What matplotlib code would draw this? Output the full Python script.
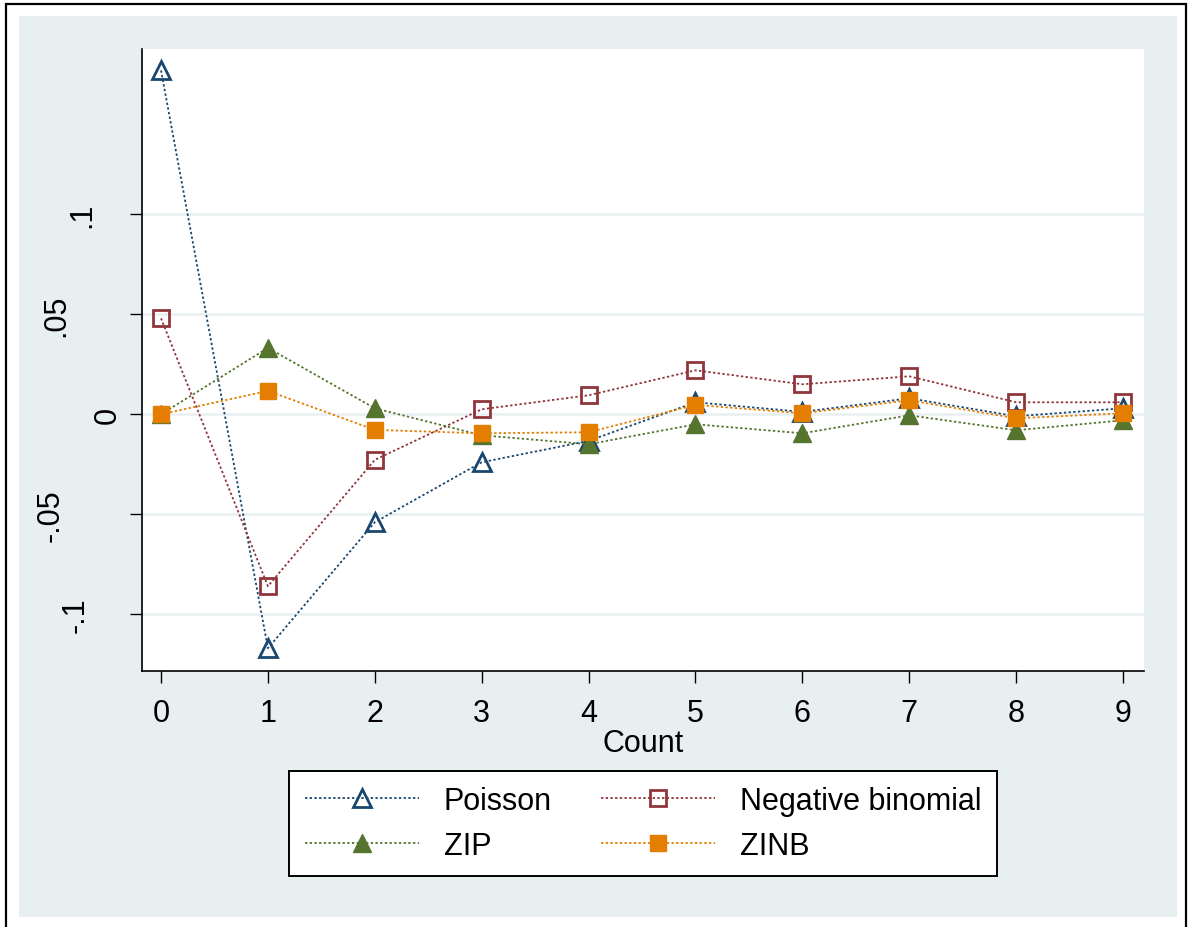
"""Residual-style comparison of count models (Stata look), redrawn in matplotlib."""
import matplotlib
matplotlib.use("Agg")
import matplotlib.pyplot as plt
from matplotlib.patches import Rectangle
from matplotlib.transforms import ScaledTranslation

plt.rcParams["font.family"] = ["Liberation Sans", "DejaVu Sans"]

# ----- data ------------------------------------------------------------------
counts = [0, 1, 2, 3, 4, 5, 6, 7, 8, 9]
poisson = [0.172, -0.117, -0.054, -0.024, -0.0133, 0.006, 0.0012, 0.008, -0.001, 0.003]
negbin = [0.048, -0.086, -0.0228, 0.0025, 0.0095, 0.022, 0.015, 0.019, 0.006, 0.006]
zip_ = [0.0, 0.0332, 0.003, -0.0105, -0.015, -0.005, -0.0095, -0.0005, -0.008, -0.003]
zinb = [0.0, 0.0117, -0.0078, -0.0095, -0.009, 0.0047, 0.0005, 0.007, -0.002, 0.0005]

yticks = [-0.1, -0.05, 0, 0.05, 0.1]
ytick_labels = ["-.1", "-.05", "0", ".05", ".1"]

NAVY = "#1a476f"
MAROON = "#90353b"
GREEN = "#55752f"
ORANGE = "#e37e00"
BG = "#e8eff1"
GRID = "#e8f0f2"

W, H = 1189, 928
fig = plt.figure(figsize=(W / 100, H / 100), dpi=100, facecolor="white")


# outer frame + graph region, in pixel units converted to figure fractions
def px_rect(x0, y0, x1, y1, **kw):
    return Rectangle((x0 / W, 1 - y1 / H), (x1 - x0) / W, (y1 - y0) / H,
                     transform=fig.transFigure, **kw)


fig.patches.append(px_rect(19, 17, 1177, 918, facecolor=BG, edgecolor="none", zorder=-2))
fig.patches.append(px_rect(6, 5, 1186, 940, facecolor="none", edgecolor="black",
                           linewidth=1.6, zorder=-1))

ax = fig.add_axes([142 / W, 1 - 672 / H, (1144 - 142) / W, (672 - 50) / H])
ax.set_zorder(2)
ax.set_facecolor("white")

dot = (0, (1.3, 1.3))
l_poi, = ax.plot(counts, poisson, linestyle=dot, lw=1.3, color=NAVY, marker="^",
                 markersize=13, markerfacecolor="none", markeredgecolor=NAVY,
                 markeredgewidth=2.0, label="Poisson", zorder=3)
l_nb, = ax.plot(counts, negbin, linestyle=dot, lw=1.3, color=MAROON, marker="s",
                markersize=11.5, markerfacecolor="none", markeredgecolor=MAROON,
                markeredgewidth=2.0, label="Negative binomial", zorder=4)
l_zip, = ax.plot(counts, zip_, linestyle=dot, lw=1.3, color=GREEN, marker="^",
                 markersize=13, markerfacecolor=GREEN, markeredgecolor=GREEN,
                 label="ZIP", zorder=5)
l_zinb, = ax.plot(counts, zinb, linestyle=dot, lw=1.3, color=ORANGE, marker="s",
                  markersize=11.5, markerfacecolor=ORANGE, markeredgecolor=ORANGE,
                  label="ZINB", zorder=6)

ax.set_xlim(-0.178, 9.196)
ax.set_ylim(-0.1284, 0.1827)
ax.set_xticks(counts)
ax.set_yticks(yticks)
ax.set_yticklabels([])
ax.grid(axis="y", color=GRID, lw=1.8)
ax.set_axisbelow(True)

for s in ("top", "right"):
    ax.spines[s].set_visible(False)
for s in ("left", "bottom"):
    ax.spines[s].set_linewidth(1.2)

ax.tick_params(axis="both", direction="out", length=8.6, width=1.0,
               labelsize=22, colors="black")
ax.tick_params(axis="x", pad=11)

# Stata places its rotated y labels further left the longer they are;
ylab_offset_px = {"-.1": 69, "-.05": 94, "0": 37, ".05": 89, ".1": 63}
for val, txt in zip(yticks, ytick_labels):
    off = ScaledTranslation(-(ylab_offset_px[txt] - 3) / 100, 0, fig.dpi_scale_trans)
    ax.text(0, val, txt, transform=ax.get_yaxis_transform() + off,
            rotation=90, ha="center", va="center", fontsize=22, clip_on=False)

ax.set_xlabel("Count", fontsize=22, labelpad=0)

# matplotlib fills legend columns first, so order handles to get row-wise layout
handles = [l_poi, l_zip, l_nb, l_zinb]
leg = fig.legend(handles, [h.get_label() for h in handles],
                 loc="center", bbox_to_anchor=(643 / W, 1 - 824.5 / H), ncol=2,
                 fontsize=22, frameon=True, fancybox=False, framealpha=1,
                 handlelength=3.75, handletextpad=0.8, columnspacing=1.6,
                 labelspacing=0.48, borderpad=0.5, numpoints=1)
leg.set_zorder(5)
leg.get_frame().set_edgecolor("black")
leg.get_frame().set_linewidth(1.4)
leg.get_frame().set_facecolor("white")

fig.savefig("out.png", dpi=100, facecolor=fig.get_facecolor())
